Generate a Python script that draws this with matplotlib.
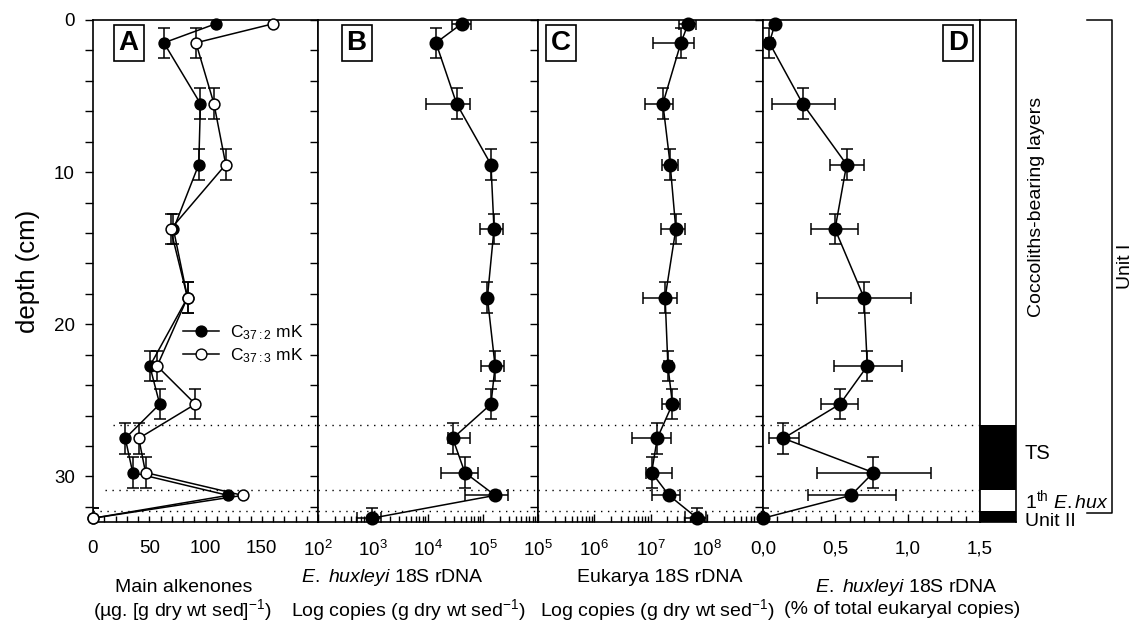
import numpy as np
import matplotlib.pyplot as plt
from matplotlib.ticker import MultipleLocator, FixedLocator, LogLocator, NullFormatter, FixedFormatter
from matplotlib.lines import Line2D

plt.rcParams['font.family'] = ['Liberation Sans', 'DejaVu Sans']
plt.rcParams['mathtext.fontset'] = 'custom'
plt.rcParams['mathtext.rm'] = 'Liberation Sans'
plt.rcParams['mathtext.it'] = 'Liberation Sans:italic'
plt.rcParams['mathtext.bf'] = 'Liberation Sans:bold'

# --- data (depth in cm) ---
depth = np.array([0.25, 1.5, 5.5, 9.5, 13.75, 18.25, 22.75, 25.25, 27.5, 29.75, 31.25, 32.75])
depth_err = np.array([np.nan, 1, 1, 1, 1, 1, 1, 1, 1, 1, np.nan, 0.7])

# A : main alkenones (ug / g dry wt sed)
c37_2 = np.array([109, 63, 95.5, 94, 71.5, 84, 50.5, 59.3, 28.7, 35.3, 120, 0])
c37_3 = np.array([160, 91.5, 107.5, 118, 69, 84, 57, 91, 40.7, 46.7, 133, 0])

# B : E. huxleyi 18S rDNA, log10 copies
ehux_log = np.array([4.61, 4.145, 4.52, 5.145, 5.2, 5.08, 5.22, 5.145, 4.45, 4.67, 5.22, 2.98])
ehux_lo = np.array([4.43, np.nan, 3.96, np.nan, 4.95, np.nan, 4.96, np.nan, 4.36, 4.24, 4.68, 2.71])
ehux_hi = np.array([4.79, np.nan, 4.76, np.nan, 5.36, np.nan, 5.39, np.nan, 4.76, 4.90, 5.46, 3.14])

# C : Eukarya 18S rDNA, log10 copies
euk_log = np.array([7.67, 7.54, 7.22, 7.35, 7.45, 7.26, 7.31, 7.39, 7.12, 7.02, 7.33, 7.83])
euk_lo = np.array([7.51, 7.05, 6.90, 7.21, 7.18, 6.86, 7.24, 7.21, 6.67, 6.92, 7.02, 7.61])
euk_hi = np.array([7.81, 7.77, 7.40, 7.49, 7.61, 7.47, 7.38, 7.53, 7.36, 7.38, 7.52, 7.99])

# D : E. huxleyi in % of total eukaryal copies
pct = np.array([0.083, 0.044, 0.274, 0.578, 0.498, 0.698, 0.721, 0.532, 0.141, 0.763, 0.608, 0.0])
pct_lo = np.array([0.06, 0.02, 0.06, 0.46, 0.33, 0.37, 0.49, 0.40, 0.04, 0.37, 0.31, np.nan])
pct_hi = np.array([0.11, 0.07, 0.50, 0.70, 0.66, 1.02, 0.96, 0.66, 0.25, 1.16, 0.92, np.nan])

# horizons (dotted lines) and lithology column
horizons = [26.6, 30.9, 32.25]
black_layers = [(26.6, 30.9), (32.25, 33.0)]

a_ticks = [0, 50, 100, 150]
b_ticks = [1e2, 1e3, 1e4, 1e5]
b_labels = ['$10^2$', '$10^3$', '$10^4$', '$10^5$']
c_ticks = [1e5, 1e6, 1e7, 1e8]
c_labels = ['$10^5$', '$10^6$', '$10^7$', '$10^8$']
d_ticks = [0.0, 0.5, 1.0, 1.5]
d_labels = ['0,0', '0,5', '1,0', '1,5']

FS = 13.5
LFS = 14

fig = plt.figure(figsize=(11.36, 6.26), dpi=100)
W, H = 1136., 626.
y0, h = 104 / H, 502 / H
axA = fig.add_axes([93 / W, y0, 225 / W, h])
axB = fig.add_axes([318 / W, y0, 220 / W, h])
axC = fig.add_axes([538 / W, y0, 225 / W, h])
axD = fig.add_axes([763 / W, y0, 217 / W, h])
axS = fig.add_axes([980 / W, y0, 36 / W, h])

for ax in (axA, axB, axC, axD, axS):
    ax.set_ylim(33, 0)
    for sp in ax.spines.values():
        sp.set_linewidth(1.2)
    ax.yaxis.set_major_locator(MultipleLocator(2))
    ax.tick_params(axis='y', direction='out', length=6, width=1, labelleft=False)
    ax.tick_params(axis='x', which='both', direction='in', width=1, labelsize=FS, pad=13)
    ax.tick_params(axis='x', which='major', length=6)
    ax.tick_params(axis='x', which='minor', length=4)

axA.yaxis.set_major_locator(FixedLocator(np.arange(0, 33, 2)))
axA.tick_params(axis='y', labelleft=True, labelsize=FS, pad=7)
axA.set_yticklabels(['0' if d == 0 else (str(d) if d % 10 == 0 else '') for d in range(0, 33, 2)])
axA.set_ylabel('depth (cm)', fontsize=18.5, labelpad=10)


def profile(ax, x, lo=None, hi=None, face='k', ms=9):
    ax.plot(x, depth, '-', color='k', lw=1.1, zorder=2)
    ax.errorbar(x, depth, yerr=depth_err, fmt='none', ecolor='k', elinewidth=1.1,
                capsize=4.5, capthick=1.1, zorder=3)
    if lo is not None:
        ax.errorbar(x, depth, xerr=[x - lo, hi - x], fmt='none', ecolor='k',
                    elinewidth=1.1, capsize=4.5, capthick=1.1, zorder=3)
    ax.plot(x, depth, 'o', ms=ms, mfc=face, mec='k', mew=1.1, ls='none', zorder=4,
            clip_on=False)


# --- A ---
profile(axA, c37_2, face='k', ms=7.8)
profile(axA, c37_3, face='white', ms=7.8)
axA.set_xlim(0, 200)
axA.xaxis.set_major_locator(FixedLocator(a_ticks))
axA.xaxis.set_minor_locator(MultipleLocator(10))
axA.tick_params(axis='x', which='major', length=4)
handles = [Line2D([], [], color='k', lw=1.1, marker='o', ms=7.8, mfc='k', mec='k'),
           Line2D([], [], color='k', lw=1.1, marker='o', ms=7.8, mfc='white', mec='k')]
axA.legend(handles, ['C$_{37:2}$ mK', 'C$_{37:3}$ mK'], loc='center left',
           bbox_to_anchor=(0.4, 0.354), frameon=False, fontsize=12.5, borderpad=0,
           borderaxespad=0, handlelength=2.1, handletextpad=0.6, labelspacing=0.25)

# --- B ---
profile(axB, 10 ** ehux_log, 10 ** ehux_lo, 10 ** ehux_hi)
axB.set_xscale('log')
axB.set_xlim(1e2, 1e6)
axB.xaxis.set_major_locator(FixedLocator(b_ticks))
axB.xaxis.set_major_formatter(FixedFormatter(b_labels))
axB.xaxis.set_minor_locator(LogLocator(base=10, subs=np.arange(2, 10), numticks=20))
axB.xaxis.set_minor_formatter(NullFormatter())

# --- C ---
profile(axC, 10 ** euk_log, 10 ** euk_lo, 10 ** euk_hi)
axC.set_xscale('log')
axC.set_xlim(1e5, 1e9)
axC.xaxis.set_major_locator(FixedLocator(c_ticks))
axC.xaxis.set_major_formatter(FixedFormatter(c_labels))
axC.xaxis.set_minor_locator(LogLocator(base=10, subs=np.arange(2, 10), numticks=20))
axC.xaxis.set_minor_formatter(NullFormatter())

# --- D ---
profile(axD, pct, pct_lo, pct_hi)
axD.set_xlim(0, 1.5)
axD.xaxis.set_major_locator(FixedLocator(d_ticks))
axD.xaxis.set_major_formatter(FixedFormatter(d_labels))
axD.xaxis.set_minor_locator(MultipleLocator(0.1))

# dotted horizons
starts = {axA: [0.089, 0.053, 0.0]}
for ax in (axA, axB, axC, axD):
    for i, d in enumerate(horizons):
        xmin = starts.get(ax, [0, 0, 0])[i]
        ax.axhline(d, xmin=xmin, color='k', lw=1, ls=(0, (1, 4)), zorder=1)

# panel letters
for ax, letter, xp in ((axA, 'A', 0.158), (axB, 'B', 0.175), (axC, 'C', 0.102), (axD, 'D', 0.899)):
    ax.text(xp, 0.954, letter, transform=ax.transAxes, fontsize=20, fontweight='bold',
            ha='center', va='center',
            bbox=dict(boxstyle='square,pad=0.18', fc='white', ec='k', lw=1.2), zorder=6)

# --- lithology column ---
axS.set_xlim(0, 1)
axS.set_xticks([])
axS.set_yticks([])
for top, bot in black_layers:
    axS.axhspan(top, bot, color='k', lw=0)

tr = axS.get_yaxis_transform()
axS.plot([2.97, 3.67, 3.67, 2.97], [0, 0, 32.4, 32.4], color='k', lw=1.1,
         transform=tr, clip_on=False)
axS.text(1.58, 12.3, 'Coccoliths-bearing layers', rotation=90, transform=tr,
         ha='center', va='center', fontsize=14)
axS.text(4.05, 16.2, 'Unit I', rotation=90, transform=tr, ha='center', va='center', fontsize=14)
axS.text(1.25, 28.5, 'TS', transform=tr, ha='left', va='center', fontsize=14.5)
axS.text(1.25, 31.55, '1$^{\\rm th}$ $\\it{E.hux}$', transform=tr, ha='left', va='center', fontsize=14)
axS.text(1.25, 32.95, 'Unit II', transform=tr, ha='left', va='center', fontsize=14)

# --- axis titles below panels ---
r_hi, r_lo, r_2 = 1 - 578 / H, 1 - 587 / H, 1 - 610 / H
fig.text(184 / W, r_lo, 'Main alkenones', ha='center', va='center', fontsize=LFS)
fig.text(182 / W, r_2, '(\u00b5g. [g dry wt sed]$^{-1}$)', ha='center', va='center', fontsize=LFS)
fig.text(392 / W, r_hi, '$\\it{E.}$ $\\it{huxleyi}$ 18S rDNA', ha='center', va='center', fontsize=LFS)
fig.text(408 / W, r_2, 'Log copies (g dry wt sed$^{-1}$)', ha='center', va='center', fontsize=LFS)
fig.text(660 / W, r_hi, 'Eukarya 18S rDNA', ha='center', va='center', fontsize=LFS)
fig.text(657 / W, r_2, 'Log copies (g dry wt sed$^{-1}$)', ha='center', va='center', fontsize=LFS)
fig.text(906 / W, r_lo, '$\\it{E.}$ $\\it{huxleyi}$ 18S rDNA', ha='center', va='center', fontsize=LFS)
fig.text(902 / W, r_2, '(% of total eukaryal copies)', ha='center', va='center', fontsize=LFS)

plt.savefig('out.png', dpi=100)
